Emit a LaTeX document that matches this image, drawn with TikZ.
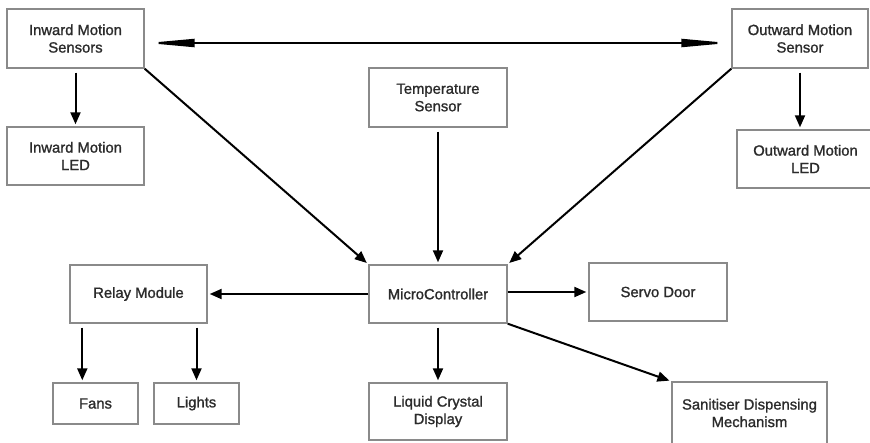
\documentclass[tikz,border=0pt]{standalone}
\usepackage{fontspec}
\newfontfamily\lblfont{Liberation Sans}[FakeBold=1.2]
\usetikzlibrary{arrows.meta}
\definecolor{boxline}{HTML}{8A8A8A}
\definecolor{labeltext}{HTML}{2B2B2B}
\begin{document}
\begin{tikzpicture}[x=1pt,y=-1pt,
  blk/.style={draw=boxline, line width=1.4pt, fill=white, inner sep=0pt,
    align=center, text=labeltext,
    font=\lblfont\fontsize{14.8}{17.5}\selectfont},
  arr/.style={draw=black, line width=2pt,
    -{Triangle[length=12pt,width=10pt]}, shorten <=4pt, shorten >=2pt},
  darr/.style={draw=black, line width=2pt,
    {Triangle[length=48pt,width=8pt]}-{Triangle[length=48pt,width=8pt]},
    shorten <=2pt, shorten >=2pt}]
\clip (0,0) rectangle (870,442);
\fill[white] (0,0) rectangle (870,442);

% sensors and indicators
\node[blk, minimum width=137, minimum height=59] (ims) at (75.5,38.5) {Inward Motion\\Sensors};
\node[blk, minimum width=137, minimum height=58] (iml) at (75.5,156) {Inward Motion\\LED};
\node[blk, minimum width=136, minimum height=59] (oms) at (800,38.5) {Outward Motion\\Sensor};
\node[blk, minimum width=137, minimum height=58] (oml) at (805.5,159) {Outward Motion\\LED};
\node[blk, minimum width=138, minimum height=59] (ts) at (438,97.5) {Temperature\\Sensor};

% controller and outputs
\node[blk, minimum width=138, minimum height=58] (mc) at (438,294) {MicroController};
\node[blk, minimum width=137, minimum height=58] (relay) at (138.5,294) {Relay Module};
\node[blk, minimum width=138, minimum height=58] (servo) at (658,292) {Servo Door};
\node[blk, minimum width=85, minimum height=41] (fans) at (95.5,403.5) {Fans};
\node[blk, minimum width=85, minimum height=41] (lights) at (196.5,403.5) {Lights};
\node[blk, minimum width=138, minimum height=57] (lcd) at (438,411.5) {Liquid Crystal\\Display};
\node[blk, minimum width=155, minimum height=62] (san) at (749.5,413) {Sanitiser Dispensing\\Mechanism};

% connectors
\draw[darr] ([yshift=-4.5pt]ims.east) -- ([yshift=-4.5pt]oms.west);
\draw[arr] (ims.south) -- (iml.north);
\draw[arr] (oms.south) -- (oms.south |- oml.north);
\draw[arr, shorten <=0pt] (ims.south east) -- (mc.north west);
\draw[arr, shorten <=0pt] (oms.south west) -- (mc.north east);
\draw[arr] (ts.south) -- (mc.north);
\draw[arr, shorten <=0pt] (mc.west) -- (relay.east);
\draw[arr, shorten <=0pt] (servo.west -| mc.east) -- (servo.west);
\draw[arr] (mc.south) -- (lcd.north);
\draw[arr, shorten <=0pt] (mc.south east) -- (san.north west);
\draw[arr] ([xshift=13pt]relay.south west) -- ([xshift=13pt]relay.south west |- fans.north);
\draw[arr] (lights.north |- relay.south) -- (lights.north);
\end{tikzpicture}
\end{document}
